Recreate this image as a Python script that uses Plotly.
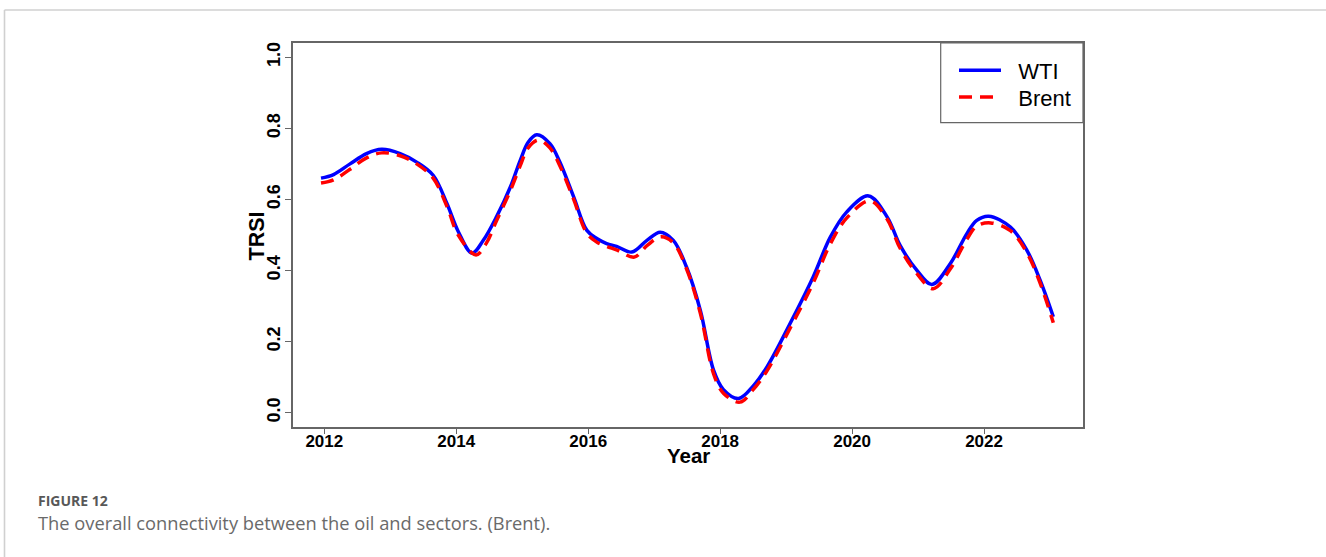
import plotly.graph_objects as go

# Total return spillover index (TRSI) between oil and sectors, WTI vs Brent
years_wti = [2011.95, 2012.14, 2012.39, 2012.64, 2012.87, 2013.15, 2013.40, 2013.65,
             2013.86, 2014.03, 2014.24, 2014.41, 2014.61, 2014.82, 2014.97, 2015.09,
             2015.22, 2015.42, 2015.57, 2015.78, 2015.98, 2016.13, 2016.28, 2016.43,
             2016.66, 2016.89, 2017.09, 2017.29, 2017.49, 2017.70, 2017.90, 2018.05,
             2018.28, 2018.50, 2018.71, 2019.06, 2019.41, 2019.67, 2019.92, 2020.25,
             2020.53, 2020.73, 2020.98, 2021.21, 2021.49, 2021.74, 2021.89, 2022.07,
             2022.40, 2022.65, 2022.85, 2023.05]
wti = [0.660, 0.670, 0.700, 0.729, 0.741, 0.729, 0.705, 0.668,
       0.588, 0.510, 0.449, 0.485, 0.551, 0.635, 0.710, 0.761,
       0.782, 0.757, 0.705, 0.607, 0.513, 0.490, 0.476, 0.468,
       0.452, 0.485, 0.508, 0.485, 0.410, 0.288, 0.120, 0.065,
       0.040, 0.075, 0.129, 0.251, 0.382, 0.494, 0.565, 0.610,
       0.551, 0.470, 0.401, 0.361, 0.420, 0.504, 0.541, 0.553,
       0.522, 0.457, 0.373, 0.270]

years_brent = [2011.95, 2012.14, 2012.39, 2012.64, 2012.87, 2013.15, 2013.40, 2013.65,
               2013.86, 2014.03, 2014.30, 2014.45, 2014.61, 2014.82, 2014.97, 2015.09,
               2015.25, 2015.42, 2015.57, 2015.78, 2015.98, 2016.13, 2016.28, 2016.43,
               2016.70, 2016.89, 2017.10, 2017.29, 2017.49, 2017.70, 2017.90, 2018.05,
               2018.30, 2018.50, 2018.71, 2019.06, 2019.41, 2019.67, 2019.92, 2020.27,
               2020.53, 2020.73, 2020.98, 2021.23, 2021.49, 2021.74, 2021.89, 2022.10,
               2022.40, 2022.65, 2022.85, 2023.05]
brent = [0.646, 0.655, 0.685, 0.717, 0.731, 0.723, 0.700, 0.660,
         0.580, 0.500, 0.444, 0.475, 0.540, 0.625, 0.695, 0.745,
         0.767, 0.745, 0.695, 0.600, 0.505, 0.480, 0.468, 0.458,
         0.438, 0.470, 0.495, 0.478, 0.405, 0.280, 0.110, 0.055,
         0.030, 0.065, 0.118, 0.238, 0.365, 0.475, 0.548, 0.596,
         0.545, 0.462, 0.392, 0.349, 0.405, 0.488, 0.525, 0.534,
         0.512, 0.450, 0.365, 0.253]

x_ticks = [2012, 2014, 2016, 2018, 2020, 2022]
y_ticks = [0.0, 0.2, 0.4, 0.6, 0.8, 1.0]
y_ticktext = ["0.0", "0.2", "0.4", "0.6", "0.8", "1.0"]

W, H = 1326, 557
L, R, T, B = 293, 243, 43, 130
PW = W - L - R
PH = H - T - B


def px_x(px):
    return (px - L) / PW


def px_y(py):
    return (H - B - py) / PH


ARIAL = "Arial, Liberation Sans, sans-serif"
AXIS_GREY = "#666666"
GAP = "\u00a0\u00a0"  # spacing between legend line sample and its label

fig = go.Figure()
fig.add_trace(go.Scatter(
    x=years_wti, y=wti, mode="lines", name=GAP + "WTI", legend="legend",
    line=dict(color="#0000FF", width=3.5, shape="spline", smoothing=1.0),
))
fig.add_trace(go.Scatter(
    x=years_brent, y=brent, mode="lines", name=GAP + "Brent", legend="legend2",
    line=dict(color="#FF0000", width=3.5, dash="13px,8px", shape="spline", smoothing=1.0),
))

legend_style = dict(
    xanchor="left", yanchor="top",
    font=dict(family=ARIAL, size=22, color="black"),
    bgcolor="rgba(0,0,0,0)", borderwidth=0, itemwidth=42,
)

fig.update_layout(
    width=W, height=H,
    margin=dict(l=L, r=R, t=T, b=B, pad=0),
    paper_bgcolor="white", plot_bgcolor="white",
    showlegend=True,
    legend=dict(x=px_x(954), y=px_y(49.5), **legend_style),
    legend2=dict(x=px_x(954), y=px_y(76.2), **legend_style),
    xaxis=dict(
        range=[2011.5255, 2023.50], tickvals=x_ticks,
        ticks="outside", ticklen=5, tickwidth=1.3, tickcolor=AXIS_GREY,
        showline=True, linecolor=AXIS_GREY, linewidth=1.5, mirror=True,
        showgrid=False, zeroline=False, ticklabelstandoff=-7,
        tickfont=dict(family=ARIAL, size=17, color="black", weight="bold"),
    ),
    yaxis=dict(
        range=[-0.04, 1.04], tickvals=y_ticks, ticktext=y_ticktext, tickangle=-90,
        ticks="outside", ticklen=6, tickwidth=1.3, tickcolor=AXIS_GREY,
        showline=True, linecolor=AXIS_GREY, linewidth=1.5, mirror=True,
        showgrid=False, zeroline=False, ticklabelstandoff=-2,
        tickfont=dict(family=ARIAL, size=18, color="black", weight="bold"),
    ),
    shapes=[
        # legend frame
        dict(type="rect", xref="paper", yref="paper",
             x0=px_x(940.7), x1=1.0, y0=px_y(122.7), y1=1.0,
             line=dict(color=AXIS_GREY, width=1.2)),
        # page card border
        dict(type="line", xref="paper", yref="paper",
             x0=px_x(4.5), x1=px_x(1326), y0=px_y(10), y1=px_y(10),
             line=dict(color="#d0d0d0", width=1.6)),
        dict(type="line", xref="paper", yref="paper",
             x0=px_x(4.5), x1=px_x(4.5), y0=px_y(10), y1=px_y(560),
             line=dict(color="#d0d0d0", width=1.6)),
    ],
    annotations=[
        # axis titles
        dict(xref="paper", yref="paper", x=px_x(688), y=px_y(455.5),
             xanchor="center", yanchor="middle", showarrow=False, text="Year",
             font=dict(family=ARIAL, size=20.5, color="black", weight="bold")),
        dict(xref="paper", yref="paper", x=px_x(256.5), y=px_y(236),
             xanchor="center", yanchor="middle", showarrow=False, text="TRSI",
             textangle=-90,
             font=dict(family=ARIAL, size=21.5, color="black", weight="bold")),
        # figure caption
        dict(xref="paper", yref="paper", x=px_x(36), y=px_y(500),
             xanchor="left", yanchor="middle", showarrow=False,
             text="FIGURE 12",
             font=dict(family="Open Sans, sans-serif", size=14, color="#585858", weight="bold")),
        dict(xref="paper", yref="paper", x=px_x(36), y=px_y(522),
             xanchor="left", yanchor="middle", showarrow=False,
             text="The overall connectivity between the oil and sectors. (Brent).",
             font=dict(family="Open Sans, sans-serif", size=18.3, color="#6a6a6a")),
    ],
)

fig.write_html("out.html")
